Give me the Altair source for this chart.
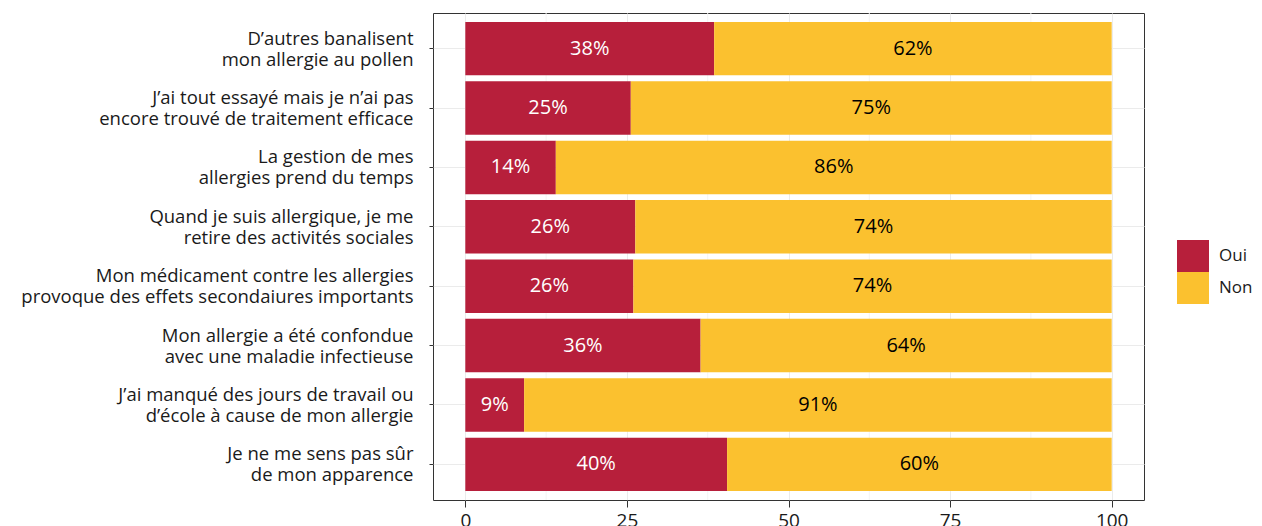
import altair as alt
import pandas as pd

categories = [
    "D’autres banalisent\nmon allergie au pollen",
    "J’ai tout essayé mais je n’ai pas\nencore trouvé de traitement efficace",
    "La gestion de mes\nallergies prend du temps",
    "Quand je suis allergique, je me\nretire des activités sociales",
    "Mon médicament contre les allergies\nprovoque des effets secondaiures importants",
    "Mon allergie a été confondue\navec une maladie infectieuse",
    "J’ai manqué des jours de travail ou\nd’école à cause de mon allergie",
    "Je ne me sens pas sûr\nde mon apparence",
]
oui_values = [38.5, 25.6, 14.0, 26.3, 26.0, 36.4, 9.1, 40.5]
oui_labels = ["38%", "25%", "14%", "26%", "26%", "36%", "9%", "40%"]
non_labels = ["62%", "75%", "86%", "74%", "74%", "64%", "91%", "60%"]
responses = ["Oui", "Non"]
colors = ["#B71F3B", "#FBC12F"]
x_ticks = [0, 25, 50, 75, 100]
minor_ticks = [12.5, 37.5, 62.5, 87.5]

rows = []
for i, c in enumerate(categories):
    rows.append(dict(cat=c, resp="Oui", value=oui_values[i], label=oui_labels[i], order=0))
    rows.append(dict(cat=c, resp="Non", value=100 - oui_values[i], label=non_labels[i], order=1))
df = pd.DataFrame(rows)
minor_df = pd.DataFrame({"x": minor_ticks})

FONT = "Open Sans"
xscale = alt.Scale(domain=[-5, 105], nice=False, zero=False)
yscale = alt.Scale(paddingInner=0.1, paddingOuter=0.15)

minor = alt.Chart(minor_df).mark_rule(color="#F4F4F4", strokeWidth=1).encode(
    x=alt.X("x:Q", scale=xscale)
)

bars = alt.Chart(df).mark_bar().encode(
    x=alt.X(
        "value:Q",
        stack="zero",
        scale=xscale,
        axis=alt.Axis(
            title=None,
            values=x_ticks,
            grid=True,
            gridColor="#EBEBEB",
            tickColor="#333333",
            tickSize=7,
            labelFontSize=19,
            labelColor="#1a1a1a",
            labelPadding=4,
            domain=False,
            labelFont=FONT,
        ),
    ),
    y=alt.Y(
        "cat:N",
        sort=categories,
        scale=yscale,
        axis=alt.Axis(
            title=None,
            labelExpr="split(datum.label, '\\n')",
            labelFontSize=18.5,
            labelLineHeight=21,
            labelOffset=-10,
            labelColor="#1a1a1a",
            labelLimit=600,
            labelPadding=16,
            tickSize=4,
            tickColor="#333333",
            grid=True,
            gridColor="#EBEBEB",
            domain=False,
            minExtent=425,
            maxExtent=425,
            labelFont=FONT,
        ),
    ),
    color=alt.Color(
        "resp:N",
        scale=alt.Scale(domain=responses, range=colors),
        legend=alt.Legend(
            title=None,
            orient="none",
            legendX=744,
            legendY=227,
            symbolType="square",
            symbolSize=1024,
            symbolStrokeWidth=0,
            symbolOpacity=1,
            labelFontSize=17,
            labelFont=FONT,
            labelColor="#1a1a1a",
            labelOffset=10,
            rowPadding=0,
            padding=0,
        ),
    ),
    order=alt.Order("order:Q"),
)

text = alt.Chart(df).transform_stack(
    stack="value", groupby=["cat"], as_=["v0", "v1"], sort=[alt.SortField("order")]
).transform_calculate(
    mid="(datum.v0 + datum.v1) / 2"
).mark_text(fontSize=20, font=FONT).encode(
    x=alt.X("mid:Q", scale=xscale),
    y=alt.Y("cat:N", sort=categories, scale=yscale),
    text="label:N",
    color=alt.condition("datum.resp == 'Oui'", alt.value("white"), alt.value("black")),
)

chart = alt.layer(minor, bars, text).properties(
    width=711, height=487, background="white",
    padding={"left": 0, "top": 4, "right": 0, "bottom": 0}
).configure_view(
    stroke="#333333", strokeWidth=1
)

chart.save("out.html", embed_options={"renderer": "svg", "actions": False})
